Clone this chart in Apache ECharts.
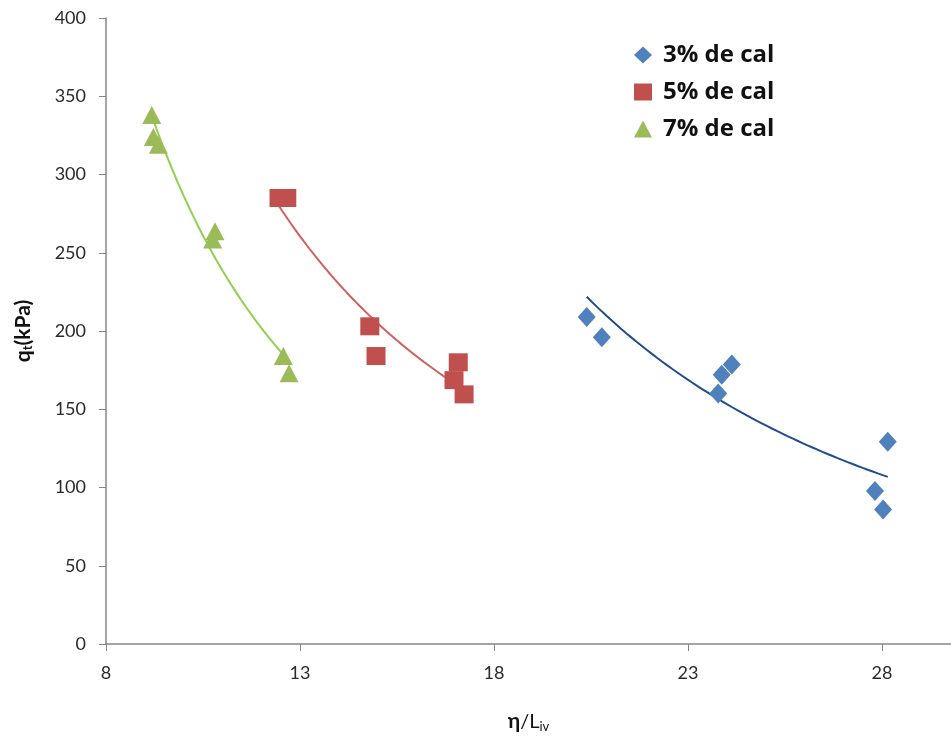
<!DOCTYPE html>
<html><head><meta charset="utf-8">
<script src="https://cdn.jsdelivr.net/npm/echarts@6/dist/echarts.min.js"></script>
<style>html,body{margin:0;padding:0;background:#fff}#c{width:951px;height:738px}</style>
</head><body><div id="c"></div>
<script>
const seriesNames = ['3% de cal', '5% de cal', '7% de cal'];
const x3 = [20.39, 20.78, 24.13, 23.87, 23.78, 28.15, 27.82, 28.03];
const y3 = [209, 196, 178.6, 172, 160, 129.3, 97.8, 86];
const x5 = [12.46, 12.66, 14.80, 14.96, 17.08, 16.97, 17.23];
const y5 = [285, 285, 203, 184, 180, 168.6, 159.5];
const x7 = [9.18, 9.22, 9.35, 10.81, 10.75, 12.57, 12.72];
const y7 = [338, 324, 319, 263.7, 258.4, 184, 173];
const xTicks = [8, 13, 18, 23, 28];
const yTicks = [0, 50, 100, 150, 200, 250, 300, 350, 400];

function pts(xs, ys){ return xs.map((x,i)=>[x, ys[i]]); }
function powerFit(xs, ys){
  const n = xs.length;
  const lx = xs.map(Math.log), ly = ys.map(Math.log);
  const mx = lx.reduce((a,b)=>a+b,0)/n, my = ly.reduce((a,b)=>a+b,0)/n;
  let sxy=0, sxx=0;
  for(let i=0;i<n;i++){ sxy+=(lx[i]-mx)*(ly[i]-my); sxx+=(lx[i]-mx)*(lx[i]-mx); }
  const b = sxy/sxx, a = Math.exp(my - b*mx);
  const lo = Math.min(...xs), hi = Math.max(...xs);
  const out = [];
  for(let k=0;k<=60;k++){ const x = lo + (hi-lo)*k/60; out.push([x, a*Math.pow(x,b)]); }
  return out;
}

const colors = ['#4F81BD', '#C0504D', '#9BBB59'];
const trendColors = ['#1F4E8C', '#D0605C', '#8FD14F'];
const symbols = ['diamond', 'rect', 'triangle'];
const sizes = [[18,20],[19,18],[19,18]];
const xsAll = [x3, x5, x7], ysAll = [y3, y5, y7];

const series = [];
for(let i=0;i<3;i++){
  series.push({
    name: seriesNames[i]+'_t', type:'line', data: powerFit(xsAll[i], ysAll[i]),
    showSymbol:false, smooth:false, lineStyle:{color:trendColors[i], width:2}, z:1, silent:true
  });
}
for(let i=0;i<3;i++){
  series.push({
    name: seriesNames[i], type:'scatter', data: pts(xsAll[i], ysAll[i]),
    symbol: symbols[i], symbolSize: sizes[i], itemStyle:{color:colors[i], opacity:1}, z:3
  });
}

const chart = echarts.init(document.getElementById('c'), null, {renderer:'canvas'});
chart.setOption({
  animation:false,
  backgroundColor:'#fff',
  textStyle:{fontFamily:'Lato'},
  grid:{left:106, top:18, right:0, height:627, containLabel:false},
  legend:{
    data: seriesNames.map((n,i)=>({name:n, icon: symbols[i]})),
    orient:'vertical', left:629, top:35, itemGap:7, itemWidth:18, itemHeight:17,
    textStyle:{fontSize:24, lineHeight:26, fontWeight:'bold', color:'#111', fontFamily:'Open Sans', padding:[4,0,0,6]}
  },
  xAxis:{
    type:'value', min:8, max:29.78, interval:5,
    axisLine:{lineStyle:{color:'#868686', width:1.5}},
    axisTick:{show:true, length:7, lineStyle:{color:'#868686'}},
    splitLine:{show:false},
    axisLabel:{color:'#2a2a2a', fontSize:18, margin:20, showMaxLabel:false},
    name:'{b|η}{n|/L}{s|iv}', nameLocation:'middle', nameGap:66,
    nameTextStyle:{rich:{
      b:{fontSize:21, fontWeight:'bold', color:'#111', fontFamily:'Lato'},
      n:{fontSize:20, color:'#111', fontFamily:'Lato'},
      s:{fontSize:13, color:'#111', fontFamily:'Lato', padding:[10,0,0,0]}
    }}
  },
  yAxis:{
    type:'value', min:0, max:400, interval:50,
    axisLine:{show:true, lineStyle:{color:'#868686', width:1.5}},
    axisTick:{show:true, length:7, lineStyle:{color:'#868686'}},
    splitLine:{show:false},
    axisLabel:{color:'#2a2a2a', fontSize:18, margin:20},
    name:'{b|q}{s|t}{b|(kPa)}', nameLocation:'middle', nameGap:72, nameRotate:90,
    nameTextStyle:{rich:{
      b:{fontSize:21, fontWeight:'bold', color:'#111', fontFamily:'Lato'},
      s:{fontSize:13, fontWeight:'bold', color:'#111', fontFamily:'Lato', padding:[9,0,0,0]}
    }}
  },
  series: series
});
</script></body></html>
